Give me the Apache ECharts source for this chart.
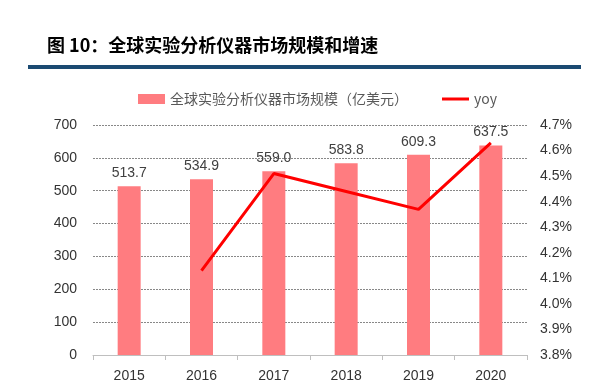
<!DOCTYPE html>
<html><head><meta charset="utf-8">
<script src="https://cdn.jsdelivr.net/npm/echarts@6/dist/echarts.min.js"></script>
<style>html,body{margin:0;padding:0;background:#fff}#c{width:603px;height:387px}</style>
</head><body><div id="c"></div>
<script>
const categories = ['2015','2016','2017','2018','2019','2020'];
const marketSize = [513.7, 534.9, 559.0, 583.8, 609.3, 637.5];
const yoy = [null, 4.13, 4.51, 4.44, 4.37, 4.63];
const leftTicks = {min: 0, max: 700, interval: 100};
const rightTicks = {min: 3.8, max: 4.7, interval: 0.1};
const titleText = '图 10：全球实验分析仪器市场规模和增速';
const barName = '全球实验分析仪器市场规模（亿美元）';
const lineName = 'yoy';

const chart = echarts.init(document.getElementById('c'));
const font = '"Liberation Sans","Noto Sans CJK SC",sans-serif';
chart.setOption({
  animation: false,
  textStyle: {fontFamily: font},
  graphic: [
    {type: 'text', left: 47, top: 36, style: {text: titleText, font: 'bold 18px "Noto Sans CJK SC",sans-serif', fill: '#000'}},
    {type: 'rect', shape: {x: 28, y: 65, width: 553, height: 4}, style: {fill: '#1B4A72'}}
  ],
  legend: {
    left: 133, top: 87, itemGap: 34,
    textStyle: {fontSize: 14, color: '#595959', fontFamily: '"Noto Sans CJK SC",sans-serif'},
    data: [
      {name: barName, icon: 'rect', itemStyle: {color: '#FF7C80'}},
      {name: lineName, icon: 'path://M0,0L27,0L27,3L0,3Z', itemStyle: {color: '#FF0000'}}
    ],
    itemWidth: 27, itemHeight: 10
  },
  grid: {left: 93, right: 76, top: 125, bottom: 32},
  xAxis: {
    type: 'category', data: categories,
    axisLine: {lineStyle: {color: '#BFBFBF'}},
    axisTick: {show: true, lineStyle: {color: '#BFBFBF'}},
    axisLabel: {fontSize: 14, color: '#333', margin: 14}
  },
  yAxis: [
    {type: 'value', min: leftTicks.min, max: leftTicks.max, interval: leftTicks.interval,
     axisLine: {show: false}, axisTick: {show: false},
     axisLabel: {fontSize: 14, color: '#333', margin: 16},
     splitLine: {lineStyle: {color: '#888', type: [2, 1], width: 1}}},
    {type: 'value', min: rightTicks.min, max: rightTicks.max, interval: rightTicks.interval,
     axisLine: {show: false}, axisTick: {show: false}, splitLine: {show: false},
     axisLabel: {fontSize: 14, color: '#333', margin: 13, formatter: v => v.toFixed(1) + '%'}}
  ],
  series: [
    {name: barName, type: 'bar', data: marketSize, barWidth: 23,
     itemStyle: {color: '#FF7C80'},
     label: {show: true, position: 'top', distance: 6, fontSize: 14, color: '#404040', formatter: p => p.value.toFixed(1)}},
    {name: lineName, type: 'line', yAxisIndex: 1, data: yoy, symbol: 'none',
     lineStyle: {color: '#FF0000', width: 3}, itemStyle: {color: '#FF0000'}}
  ]
});
</script></body></html>
